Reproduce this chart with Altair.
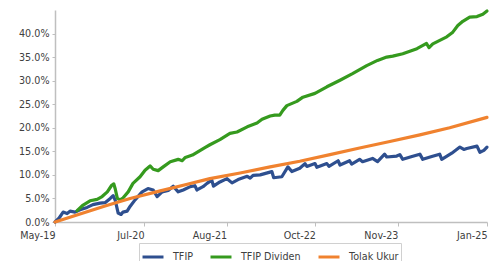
import altair as alt
import pandas as pd

# Series names
SERIES = ["TFIP", "TFIP Dividen", "Tolak Ukur"]
COLORS = ["#2e4f8f", "#359a1e", "#f0822f"]

# TFIP (cumulative return, %)
tfip_dates = [
    "2019-05-01", "2019-05-20", "2019-06-09", "2019-06-28", "2019-07-12", "2019-08-05",
    "2019-08-29", "2019-10-02", "2019-10-30", "2019-12-03", "2019-12-27", "2020-01-21",
    "2020-02-04", "2020-02-14", "2020-02-28", "2020-03-13", "2020-03-22", "2020-04-11",
    "2020-04-25", "2020-05-19", "2020-06-22", "2020-07-20", "2020-08-14", "2020-09-02",
    "2020-09-26", "2020-10-25", "2020-11-18", "2020-12-12", "2021-01-05", "2021-02-08",
    "2021-03-02", "2021-03-12", "2021-04-10", "2021-04-29", "2021-05-22", "2021-05-30",
    "2021-06-30", "2021-08-03", "2021-08-27", "2021-09-25", "2021-11-08", "2021-11-22",
    "2021-12-06", "2022-01-09", "2022-03-06", "2022-03-15", "2022-04-23", "2022-05-22",
    "2022-06-10", "2022-07-18", "2022-08-12", "2022-08-21", "2022-09-29", "2022-10-08",
    "2022-11-25", "2022-12-05", "2023-01-18", "2023-01-27", "2023-03-14", "2023-03-24",
    "2023-05-01", "2023-05-15", "2023-07-02", "2023-07-26", "2023-08-29", "2023-09-08",
    "2023-10-26", "2023-11-10", "2023-11-24", "2024-01-07", "2024-02-14", "2024-02-28",
    "2024-04-11", "2024-05-19", "2024-05-29", "2024-07-16", "2024-08-24", "2024-09-12",
    "2024-09-26", "2024-11-14", "2024-11-28", "2024-12-17", "2025-01-01",
]
tfip_values = [
    0.0, 0.8, 2.1, 1.8, 2.3, 2.1,
    2.6, 3.1, 3.7, 4.0, 4.1, 5.0,
    5.6, 4.6, 1.9, 1.6, 2.1, 2.3,
    3.3, 4.7, 6.4, 7.1, 6.8, 5.4,
    6.4, 6.7, 7.6, 6.4, 6.8, 7.5,
    7.7, 6.8, 7.5, 8.2, 8.9, 7.6,
    8.5, 9.2, 8.3, 9.0, 9.7, 9.3,
    9.9, 10.0, 10.7, 9.4, 9.6, 11.7,
    10.7, 11.4, 12.4, 11.8, 12.4, 11.6,
    12.4, 11.8, 13.0, 12.1, 13.0, 12.3,
    13.3, 12.8, 13.5, 12.8, 14.4, 13.8,
    14.0, 14.3, 13.3, 13.9, 14.4, 13.3,
    13.9, 14.4, 13.3, 14.6, 15.9, 15.4,
    15.6, 16.1, 14.8, 15.2, 15.9,
]

# TFIP Dividen (cumulative return, %)
div_dates = [
    "2019-08-15", "2019-09-13", "2019-10-16", "2019-11-19", "2019-12-13", "2020-01-07",
    "2020-01-28", "2020-02-07", "2020-02-14", "2020-02-24", "2020-03-08", "2020-03-22",
    "2020-04-16", "2020-05-09", "2020-06-12", "2020-07-06", "2020-07-30", "2020-08-14",
    "2020-09-07", "2020-10-01", "2020-11-04", "2020-12-12", "2020-12-31", "2021-01-15",
    "2021-02-18", "2021-03-16", "2021-04-19", "2021-05-13", "2021-06-30", "2021-08-17",
    "2021-09-20", "2021-11-08", "2021-12-25", "2022-01-18", "2022-02-26", "2022-03-20",
    "2022-04-13", "2022-04-28", "2022-05-17", "2022-07-04", "2022-08-02", "2022-09-29",
    "2022-11-25", "2023-01-27", "2023-03-28", "2023-06-04", "2023-07-26", "2023-09-08",
    "2023-10-07", "2023-11-24", "2024-01-31", "2024-03-17", "2024-03-29", "2024-04-16",
    "2024-06-22", "2024-07-21", "2024-08-14", "2024-09-07", "2024-10-10", "2024-11-14",
    "2024-12-12", "2025-01-01",
]
div_values = [
    2.4, 3.6, 4.5, 4.8, 5.4, 6.4,
    7.8, 8.1, 7.0, 5.0, 4.7, 5.1,
    6.4, 8.2, 9.6, 11.0, 11.9, 11.2,
    10.9, 11.7, 12.8, 13.3, 13.0, 13.7,
    14.2, 14.9, 15.8, 16.4, 17.5, 18.8,
    19.1, 20.2, 21.0, 21.8, 22.5, 22.7,
    22.7, 23.7, 24.7, 25.6, 26.5, 27.3,
    28.7, 30.1, 31.5, 33.2, 34.3, 35.0,
    35.2, 35.7, 36.8, 37.9, 37.0, 37.8,
    39.3, 40.3, 41.7, 42.6, 43.5, 43.6,
    44.1, 44.8,
]

# Tolak Ukur (benchmark, %)
bench_dates = [
    "2019-05-01", "2019-08-29", "2019-12-27", "2020-04-25", "2020-09-17", "2021-01-15",
    "2021-05-13", "2021-10-05", "2022-02-26", "2022-07-18", "2022-12-10", "2023-05-01",
    "2023-09-23", "2024-02-14", "2024-07-06", "2025-01-01",
]
bench_values = [
    0.0, 1.7, 3.4, 5.0, 6.6, 7.9,
    9.2, 10.4, 11.7, 12.9, 14.3, 15.7,
    17.1, 18.5, 20.0, 22.2,
]

# X-axis tick labels
tick_dates = ["2019-05-01", "2020-07-01", "2021-08-01", "2022-10-01", "2023-11-01", "2025-01-01"]
y_ticks = [0.0, 0.05, 0.10, 0.15, 0.20, 0.25, 0.30, 0.35, 0.40]

rows = []
for name, ds, vs in [(SERIES[0], tfip_dates, tfip_values),
                     (SERIES[1], div_dates, div_values),
                     (SERIES[2], bench_dates, bench_values)]:
    for d, v in zip(ds, vs):
        rows.append({"date": d, "value": v / 100.0, "series": name})
df = pd.DataFrame(rows)


def dt(s):
    y, m, d = (int(p) for p in s.split("-"))
    return alt.DateTime(year=y, month=m, date=d, utc=True)


FONT = "DejaVu Sans"
TXT = "#404040"

chart = alt.Chart(df).mark_line(strokeWidth=3.2, strokeJoin="round", strokeCap="round").encode(
    x=alt.X(
        "date:T",
        scale=alt.Scale(type="utc", domain=[dt(tick_dates[0]), dt(tick_dates[-1])], nice=False),
        axis=alt.Axis(
            values=[dt(s) for s in tick_dates],
            labelExpr="utcFormat(datum.value, '%b-%y')",
            title=None,
            grid=False,
            labelAlign="right",
            labelPadding=4,
            tickSize=4,
            tickColor="#bfbfbf",
            domainColor="#bfbfbf",
            domainWidth=1.5,
            labelFont=FONT,
            labelFontSize=9.6,
            labelColor=TXT,
            labelOverlap=False,
            labelFlush=False,
        ),
    ),
    y=alt.Y(
        "value:Q",
        scale=alt.Scale(domain=[0, 0.45], nice=False),
        axis=alt.Axis(
            values=y_ticks,
            format=".1%",
            title=None,
            grid=False,
            tickSize=3,
            tickColor="#bfbfbf",
            domainColor="#bfbfbf",
            domainWidth=1.5,
            labelPadding=3,
            labelFont=FONT,
            labelFontSize=9.6,
            labelColor=TXT,
        ),
    ),
    color=alt.Color(
        "series:N",
        scale=alt.Scale(domain=SERIES, range=COLORS),
        legend=alt.Legend(
            title=None,
            orient="none",
            legendX=84,
            legendY=233,
            direction="horizontal",
            symbolType="stroke",
            symbolStrokeWidth=3,
            symbolSize=440,
            labelFont=FONT,
            labelFontSize=9.6,
            labelColor=TXT,
            labelOffset=8,
            columnPadding=11,
            strokeColor="#d0d0d0",
            padding=2,
        ),
    ),
    order=alt.Order("series:N"),
).properties(
    width=432,
    height=212,
    autosize=alt.AutoSizeParams(type="none"),
    padding={"left": 47, "top": 2, "right": 3, "bottom": 45},
).configure_view(stroke=None)

chart.save("out.html", embed_options={"renderer": "svg", "actions": False})
